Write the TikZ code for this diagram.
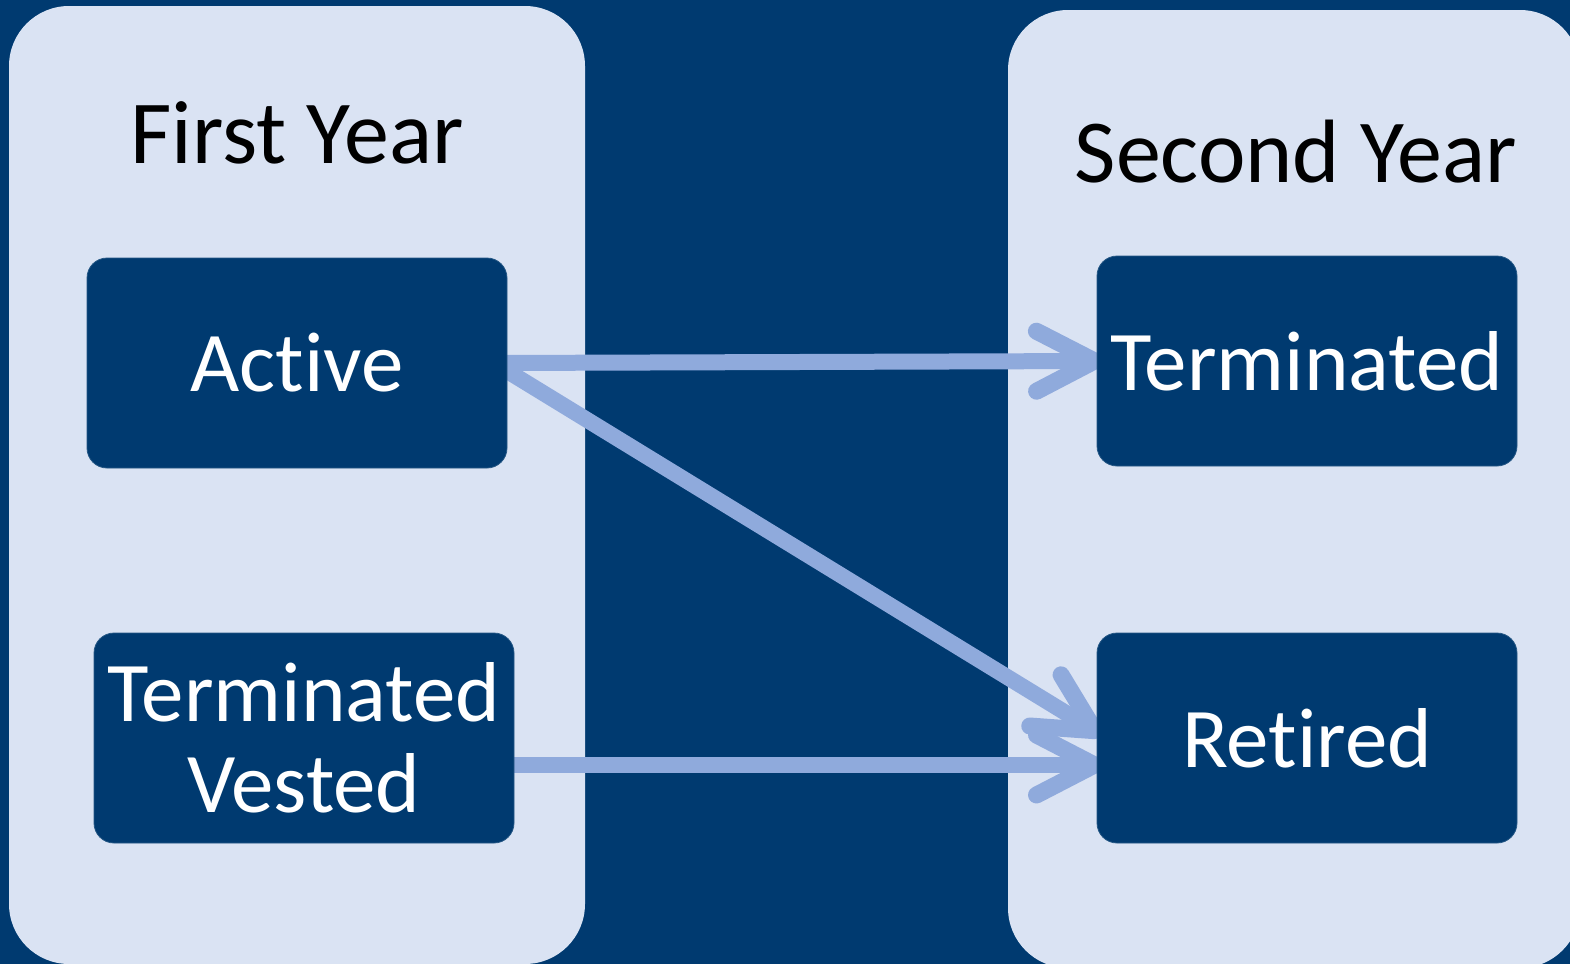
\documentclass[tikz,border=0pt]{standalone}
\usepackage{fontspec}
\setmainfont[Ligatures=NoCommon]{Carlito}
\usetikzlibrary{arrows.meta}
\pgfdeclarelayer{back}
\pgfdeclarelayer{mid}
\pgfsetlayers{back,mid,main}
\definecolor{navy}{HTML}{003A70}
\definecolor{panelc}{HTML}{DAE3F3}
\definecolor{arrowc}{HTML}{8FAADC}
\tikzset{
  panel/.style={rectangle, fill=panelc, rounded corners=30pt, inner sep=0pt, outer sep=0pt,
    minimum width=#1, minimum height=479pt},
  statebox/.style={rectangle, fill=navy, draw=navy!85!white, line width=0.4pt, rounded corners=10pt,
    inner sep=0pt, outer sep=0pt, minimum width=210pt, minimum height=105pt,
    text=white, font=\fontsize{42.5}{45.5}\selectfont, align=center},
  title/.style={anchor=base, text=black, font=\fontsize{45}{50}\selectfont, inner sep=0pt},
  flow/.style={draw=arrowc, line width=8pt, shorten >=-3pt,
    -{Straight Barb[length=29pt, width=30pt, round, line width=8.5pt]}}
}
\begin{document}
\begin{tikzpicture}[x=0.5pt, y=-0.5pt]
\useasboundingbox (0,0) rectangle (1570,964);
\begin{pgfonlayer}{back}
\fill[navy] (0,0) rectangle (1570,964);
\node[panel=288pt] (lp) at (297,485) {};
\node[panel=286pt] (rp) at (1294,489) {};
\end{pgfonlayer}
\node[title] (t1) at (297,163) {First Year};
\node[title] (t2) at (1296,182) {Second Year};
\node[statebox] (act) at (297,363) {Active};
\node[statebox] (tv) at (304,738) {Terminated\\Vested};
\node[statebox] (term) at (1307,361) {Terminated};
\node[statebox] (ret) at (1307,738) {Retired};
\begin{pgfonlayer}{mid}
\draw[flow] ([xshift=-4pt]act.east) -- (term.west);
\draw[flow] ([xshift=-4pt,yshift=-1.5pt]act.east) -- ([yshift=3pt]ret.west);
\draw[flow] ([xshift=-4pt,yshift=-13.5pt]tv.east) -- ([yshift=-13.5pt]ret.west);
\end{pgfonlayer}
\end{tikzpicture}
\end{document}
